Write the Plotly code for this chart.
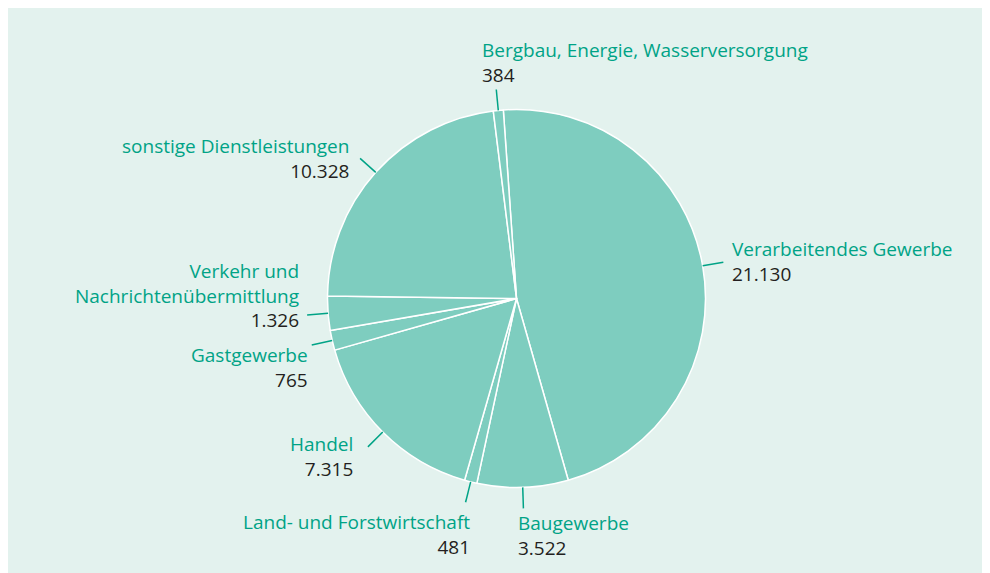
import math
import plotly.graph_objects as go

# ---- data ----
categories = [
    "Verarbeitendes Gewerbe",
    "Baugewerbe",
    "Land- und Forstwirtschaft",
    "Handel",
    "Gastgewerbe",
    "Verkehr und<br>Nachrichtenübermittlung",
    "sonstige Dienstleistungen",
    "Bergbau, Energie, Wasserversorgung",
]
values = [21130, 3522, 481, 7315, 765, 1326, 10328, 384]

# ---- layout / style ----
W, H = 990, 573
OFF = 8  # page body margin in the screenshot
CX, CY, R = 516.5, 298.5, 189.0  # screenshot pixel coords
ROT = -4
GREEN = "#00a386"
DARK = "#231f20"
FILL = "#7ecdbf"
BG = "#e3f2ee"
FONT = "Open Sans"
FS = 19

# text anchor (screenshot pixel x, pixel y centre, xanchor) per label
label_pos = [
    (730, 261.5, "left"),
    (516, 535.5, "left"),
    (472, 534, "right"),
    (355, 456, "right"),
    (310, 367.5, "right"),
    (301, 295, "right"),
    (351, 158.5, "right"),
    (480, 62.5, "left"),
]


def px(x):
    return (x - OFF) / W


def py(y):
    return 1 - (y - OFF) / H


def fmt(v):
    return f"{v:,}".replace(",", ".")


fig = go.Figure()
fig.add_trace(go.Pie(
    labels=[c.replace("<br>", " ") for c in categories],
    values=values,
    sort=False,
    direction="clockwise",
    rotation=ROT,
    textinfo="none",
    hoverinfo="label+value",
    marker=dict(colors=[FILL] * len(values), line=dict(color="white", width=1.5)),
    domain=dict(x=[px(CX - R), px(CX + R)], y=[py(CY + R), py(CY - R)]),
    showlegend=False,
))

shapes = []
annotations = []
total = sum(values)
cum = 0
for cat, v, (lx, ly, anc) in zip(categories, values, label_pos):
    mid = ROT + (cum + v / 2) / total * 360
    cum += v
    a = math.radians(mid)
    x0, y0 = CX + R * math.sin(a), CY - R * math.cos(a)
    x1, y1 = CX + (R + 21) * math.sin(a), CY - (R + 21) * math.cos(a)
    shapes.append(dict(type="line", xref="paper", yref="paper",
                       x0=px(x0), y0=py(y0), x1=px(x1), y1=py(y1),
                       line=dict(color=GREEN, width=1.5)))
    txt = f"<span style='color:{GREEN}'>{cat}</span><br><span style='color:{DARK}'>{fmt(v)}</span>"
    annotations.append(dict(xref="paper", yref="paper", x=px(lx), y=py(ly),
                            xanchor=anc, yanchor="middle", align=anc, showarrow=False,
                            text=txt, font=dict(family=FONT, size=FS, color=GREEN)))

fig.update_layout(
    width=W, height=H,
    margin=dict(l=0, r=0, t=0, b=0),
    paper_bgcolor=BG,
    plot_bgcolor=BG,
    shapes=shapes,
    annotations=annotations,
    font=dict(family=FONT, size=FS),
)

fig.write_html("out.html", default_width="990px", default_height="573px",
               post_script="document.body.style.overflow='hidden';")
